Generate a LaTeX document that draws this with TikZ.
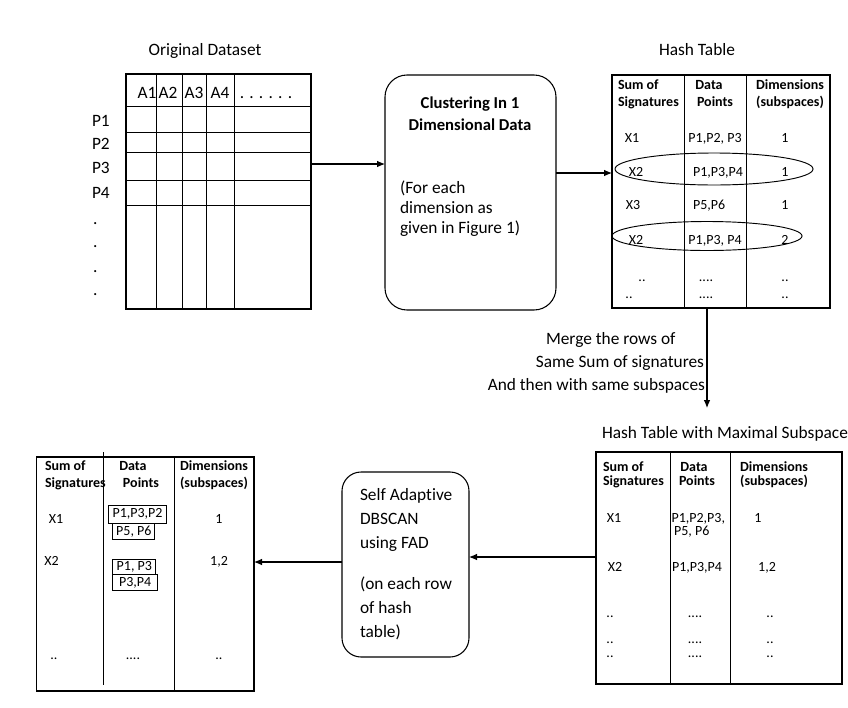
\documentclass[tikz,border=0pt]{standalone}
\usepackage{fontspec}
\setmainfont{Carlito}[Ligatures=NoCommon]
\usetikzlibrary{arrows.meta}
\def\pxu{0.75pt}
\tikzset{
  every node/.style={inner sep=0pt, outer sep=0pt},
  tbl/.style={draw, line width=0.8pt, anchor=north west},
  rbox/.style={draw, line width=0.8pt, anchor=north west},
  big/.style={font=\fontsize{13}{15.6}\selectfont},
  sml/.style={font=\fontsize{10.5}{12.6}\selectfont},
  hdr/.style={font=\fontsize{10.5}{12.6}\selectfont\bfseries},
  arr/.style={-{Latex[length=6pt,width=5pt]}, line width=0.8pt},
  gline/.style={line width=0.7pt},
  pbox/.style={draw, line width=0.7pt, font=\fontsize{10.5}{12.6}\selectfont},
}
\begin{document}
\begin{tikzpicture}[x=0.75pt,y=-0.75pt]
\fill[white] (0,0) rectangle (848,707);
\useasboundingbox (0,0) rectangle (848,707);

% ---------- Original dataset ----------
\node[big, anchor=base] (t1title) at (205,55) {Original Dataset};
\node[tbl, minimum width=185*\pxu, minimum height=235*\pxu] (t1) at (126,74) {};
\foreach \xx in {156,182,206,234} \draw[gline] (\xx,74) -- (\xx,309);
\foreach \yy in {106,132,152,180,205} \draw[gline] (126,\yy) -- (311,\yy);
\node[big, anchor=base] (ha1) at (147,98) {A1};
\node[big, anchor=base] (ha2) at (168,98) {A2};
\node[big, anchor=base] (ha3) at (194,98) {A3};
\node[big, anchor=base] (ha4) at (220,98) {A4};
\node[big, anchor=base] (ha5) at (266,98) {. . . . . .};
\node[big, anchor=base west] (p1) at (92,126) {P1};
\node[big, anchor=base west] (p2) at (92,149) {P2};
\node[big, anchor=base west] (p3) at (92,173) {P3};
\node[big, anchor=base west] (p4) at (92,198) {P4};
\node[big, anchor=base west] (d1) at (93,224) {.};
\node[big, anchor=base west] (d2) at (93,247) {.};
\node[big, anchor=base west] (d3) at (93,272) {.};
\node[big, anchor=base west] (d4) at (93,295) {.};

% ---------- Clustering box ----------
\node[rbox, rounded corners=22*\pxu, minimum width=171*\pxu, minimum height=235*\pxu] (b1) at (385,75) {};
\node[anchor=base, font=\fontsize{12.5}{15}\selectfont\bfseries] (b1a) at (470,108) {Clustering In 1};
\node[anchor=base, font=\fontsize{12.5}{15}\selectfont\bfseries] (b1b) at (470,130) {Dimensional Data};
\node[big, anchor=base west] (b1c) at (400,193) {(For each};
\node[big, anchor=base west] (b1d) at (400,213) {dimension as};
\node[big, anchor=base west] (b1e) at (400,233) {given in Figure 1)};

% ---------- Hash table ----------
\node[big, anchor=base] (h1title) at (697,55) {Hash Table};
\node[tbl, minimum width=218*\pxu, minimum height=233*\pxu] (h1) at (612,75) {};
\draw[gline] (684.5,75) -- (684.5,308);
\draw[gline] (746.7,75) -- (746.7,308);
\node[hdr, anchor=base west] at (618,89.5) {Sum of};
\node[hdr, anchor=base west] at (618,106.5) {Signatures};
\node[hdr, anchor=base] at (709,89.5) {Data};
\node[hdr, anchor=base] at (715,106.5) {Points};
\node[hdr, anchor=base] at (790,89.5) {Dimensions};
\node[hdr, anchor=base] at (790,106.5) {(subspaces)};
\node[sml, anchor=base] at (632,142) {X1};
\node[sml, anchor=base] at (715,142) {P1,P2, P3};
\node[sml, anchor=base] at (785,142) {1};
\node[sml, anchor=base] at (636,176) {X2};
\node[sml, anchor=base] at (718,176) {P1,P3,P4};
\node[sml, anchor=base] at (785,176) {1};
\node[sml, anchor=base] at (633,209.5) {X3};
\node[sml, anchor=base west] at (693,209.5) {P5,P6};
\node[sml, anchor=base] at (785,209.5) {1};
\node[sml, anchor=base] at (636,244) {X2};
\node[sml, anchor=base] at (715,244) {P1,P3, P4};
\node[sml, anchor=base] at (785,244) {2};
\node[sml, anchor=base] at (642,281) {..};
\node[sml, anchor=base] at (706,281) {....};
\node[sml, anchor=base] at (785,281) {..};
\node[sml, anchor=base] at (629,298) {..};
\node[sml, anchor=base] at (706,298) {....};
\node[sml, anchor=base] at (785,298) {..};
\draw[gline] (714,169) ellipse [x radius=99*\pxu, y radius=16*\pxu];
\draw[gline] (707,236) ellipse [x radius=95*\pxu, y radius=14.5*\pxu];

% ---------- connectors top ----------
\coordinate (ya) at (0,164);
\coordinate (yb) at (0,173);
\draw[arr] (t1.east |- ya) -- (b1.west |- ya);
\draw[arr] (b1.east |- yb) -- (h1.west |- yb);

% ---------- merge ----------
\coordinate (dend) at (707,408);
\draw[arr] (h1.south -| dend) -- (dend);
\node[big, anchor=base west] (m1) at (546,344) {Merge the rows of};
\node[big, anchor=base east] (m2) at (704,367) {Same Sum of signatures};
\node[big, anchor=base east] (m3) at (705,390) {And then with same subspaces};

% ---------- Hash table with maximal subspace ----------
\node[big, anchor=base] (h2title) at (725,438) {Hash Table with Maximal Subspace};
\node[tbl, minimum width=246*\pxu, minimum height=232*\pxu] (h2) at (596,452) {};
\draw[gline] (670,452) -- (670,684);
\draw[gline] (730,452) -- (730,684);
\node[hdr, anchor=base west] at (603,471) {Sum of};
\node[hdr, anchor=base west] at (603,485) {Signatures};
\node[hdr, anchor=base] at (694,471) {Data};
\node[hdr, anchor=base] at (697,485) {Points};
\node[hdr, anchor=base] at (774,471) {Dimensions};
\node[hdr, anchor=base] at (774,485) {(subspaces)};
\node[sml, anchor=base] at (614,522) {X1};
\node[sml, anchor=base west] at (671.5,522) {P1,P2,P3,};
\node[sml, anchor=base west] at (674,535) {P5, P6};
\node[sml, anchor=base] at (758,522) {1};
\node[sml, anchor=base] at (615,571) {X2};
\node[sml, anchor=base] at (697,571) {P1,P3,P4};
\node[sml, anchor=base] at (767,571) {1,2};
\node[sml, anchor=base] at (610,617) {..};
\node[sml, anchor=base] at (695,617) {....};
\node[sml, anchor=base] at (770,617) {..};
\node[sml, anchor=base] at (610,643) {..};
\node[sml, anchor=base] at (695,643) {....};
\node[sml, anchor=base] at (770,643) {..};
\node[sml, anchor=base] at (610,657) {..};
\node[sml, anchor=base] at (695,657) {....};
\node[sml, anchor=base] at (770,657) {..};

% ---------- Self adaptive box ----------
\node[rbox, rounded corners=19*\pxu, minimum width=127*\pxu, minimum height=185*\pxu] (b2) at (342,472) {};
\node[big, anchor=base west] at (360,500) {Self Adaptive};
\node[big, anchor=base west] at (360,524) {DBSCAN};
\node[big, anchor=base west] at (360,548) {using FAD};
\node[big, anchor=base west] at (360,589) {(on each row};
\node[big, anchor=base west] at (360,613) {of hash};
\node[big, anchor=base west] at (360,637) {table)};

% ---------- Result table ----------
\node[tbl, minimum width=217.3*\pxu, minimum height=234*\pxu] (t3) at (36.7,457) {};
\draw[gline] (103.3,452) -- (103.3,685);
\draw[gline] (174,457) -- (174,691);
\node[hdr, anchor=base west] at (45,470) {Sum of};
\node[hdr, anchor=base west] at (45,487) {Signatures};
\node[hdr, anchor=base] at (133,470) {Data};
\node[hdr, anchor=base] at (141,487) {Points};
\node[hdr, anchor=base] at (214,470) {Dimensions};
\node[hdr, anchor=base] at (214,487) {(subspaces)};
\node[sml, anchor=base] at (56,523) {X1};
\node[pbox, minimum width=58*\pxu, minimum height=17.4*\pxu] (pb1) at (137.5,514.3) {P1,P3,P2};
\node[pbox, minimum width=42*\pxu, minimum height=16.7*\pxu] (pb2) at (133.9,531.4) {P5, P6};
\node[sml, anchor=base] at (219,523) {1};
\node[sml, anchor=base] at (51.6,565) {X2};
\node[pbox, minimum width=43*\pxu, minimum height=15*\pxu] (pb3) at (134.4,567.2) {P1, P3};
\node[pbox, minimum width=44.7*\pxu, minimum height=15.3*\pxu] (pb4) at (135.2,582.4) {P3,P4};
\node[sml, anchor=base] at (219,565) {1,2};
\node[sml, anchor=base] at (54,659) {..};
\node[sml, anchor=base] at (133,659) {....};
\node[sml, anchor=base] at (219,659) {..};

% ---------- connectors bottom ----------
\coordinate (yc) at (0,557);
\coordinate (yd) at (0,562);
\draw[arr] (h2.west |- yc) -- (b2.east |- yc);
\draw[arr] (b2.west |- yd) -- (t3.east |- yd);
\end{tikzpicture}
\end{document}
